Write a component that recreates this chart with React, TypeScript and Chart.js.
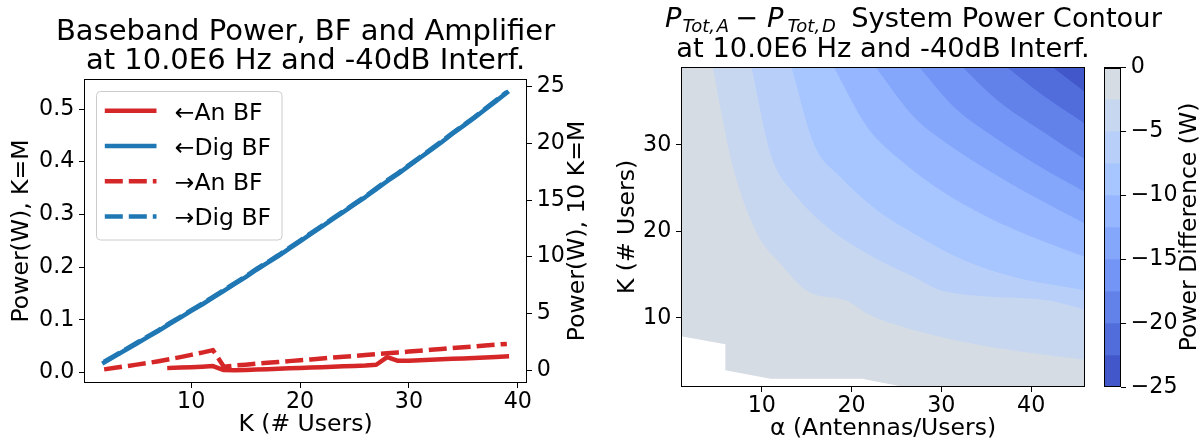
import React, { useEffect, useRef } from "react";
import { Chart, registerables } from "chart.js";

Chart.register(...registerables);

const FONT = "'DejaVu Sans', 'Liberation Sans', sans-serif";
const RED = "#d62728";
const BLUE = "#1f77b4";

// ---------- Left panel data (K = number of users) ----------
const users = [2, 3, 4, 5, 6, 7, 8, 9, 10, 11, 12, 13, 14, 15, 16, 17, 18, 19, 20, 21, 22, 23, 24, 25, 26, 27, 28, 29, 30, 31, 32, 33, 34, 35, 36, 37, 38, 39];
// left axis (W, K=M)
const anBfLeft = [null, null, null, null, null, null, 0.0084, 0.0092, 0.01, 0.011, 0.0122, 0.0045, 0.004, 0.0047, 0.0054, 0.0062, 0.007, 0.0078, 0.0086, 0.0093, 0.0101, 0.0109, 0.0117, 0.0125, 0.0133, 0.0146, 0.029, 0.0222, 0.0222, 0.0231, 0.024, 0.0249, 0.0258, 0.0267, 0.0276, 0.0285, 0.0294, 0.0304];
const digBfLeft = [0.019, 0.031, 0.043, 0.055, 0.067, 0.079, 0.092, 0.104, 0.117, 0.129, 0.142, 0.155, 0.168, 0.181, 0.195, 0.208, 0.221, 0.235, 0.249, 0.263, 0.277, 0.291, 0.305, 0.319, 0.333, 0.348, 0.363, 0.377, 0.392, 0.407, 0.422, 0.437, 0.453, 0.468, 0.483, 0.499, 0.515, 0.531];
// right axis (W, 10 K=M)
const anBfRight = [0.06, 0.2, 0.34, 0.48, 0.62, 0.78, 0.95, 1.14, 1.34, 1.54, 1.76, 0.3, 0.4, 0.48, 0.56, 0.64, 0.71, 0.79, 0.87, 0.94, 1.02, 1.1, 1.17, 1.25, 1.33, 1.4, 1.48, 1.56, 1.63, 1.71, 1.79, 1.86, 1.94, 2.02, 2.09, 2.17, 2.24, 2.31];
const digBfRight = [0.73, 1.29, 1.85, 2.41, 2.97, 3.52, 4.13, 4.69, 5.29, 5.85, 6.45, 7.06, 7.66, 8.27, 8.92, 9.52, 10.13, 10.78, 11.43, 12.08, 12.73, 13.38, 14.03, 14.68, 15.33, 16.03, 16.73, 17.38, 18.08, 18.78, 19.47, 20.17, 20.91, 21.61, 22.31, 23.05, 23.8, 24.54];

const seriesLabels = ["\u2190An BF", "\u2190Dig BF", "\u2192An BF", "\u2192Dig BF"];
const usersTicks = [10, 20, 30, 40];
const leftYTicks = [0, 0.1, 0.2, 0.3, 0.4, 0.5];
const rightYTicks = [0, 5, 10, 15, 20, 25];

// ---------- Right panel: contour boundaries [alpha, K] ----------
const boundary0 = [[1, 7.86], [5.94, 6.93], [5.94, 3.93], [10.96, 2.96], [21.18, 2.96], [25.45, 2.08], [26, 2], [46, 2]];
const boundary2_5 = [[4.53, 39], [5.57, 33.22], [6.87, 27.05], [9.47, 19.73], [12.07, 16.26], [15.23, 12.99], [19.32, 12.02], [21.73, 10.48], [25.08, 9.13], [29.91, 7.78], [34.37, 6.82], [39.94, 5.93], [46, 5.16]];
const boundary5 = [[8.84, 39], [10.96, 28.98], [13.93, 23.97], [17.28, 20.5], [21.73, 17.42], [26.94, 14.72], [30.28, 13.06], [41.8, 12.02], [46, 10.94]];
const boundary7_5 = [[13.3, 39], [15.79, 30.14], [18.76, 26.28], [22.85, 22.43], [26.94, 19.73], [32.51, 16.65], [38.09, 14.72], [46, 13.18]];
const boundary10 = [[18.02, 39], [21.73, 32.06], [25.45, 28.21], [29.91, 24.74], [35.11, 21.66], [41.06, 18.96], [46, 17.03]];
const boundary12_5 = [[22.66, 39], [26.94, 33.22], [30.65, 30.14], [35.86, 26.67], [41.06, 23.58], [46, 20.89]];
const boundary15 = [[27.5, 39], [31.4, 34.38], [35.86, 30.91], [41.06, 27.44], [46, 24.55]];
const boundary17_5 = [[32.33, 39], [36.23, 35.15], [41.06, 31.68], [46, 28.32]];
const boundary20 = [[37.27, 39], [41.06, 35.92], [46, 32.45]];
const boundary22_5 = [[42.36, 39], [46, 36.11]];
const boundaries = [boundary0, boundary2_5, boundary5, boundary7_5, boundary10, boundary12_5, boundary15, boundary17_5, boundary20, boundary22_5];
const bandLevels = [0, -2.5, -5, -7.5, -10, -12.5, -15, -17.5, -20, -22.5, -25];
const bandColors = ["#d6dce4", "#c8d7f0", "#b8d0f9", "#a7c5fe", "#96b7ff", "#84a7fc", "#7395f5", "#6282ea", "#516ddb", "#4257ca"];
const alphaTicks = [10, 20, 30, 40];
const contourUserTicks = [10, 20, 30];
const cbarTicks = [0, -5, -10, -15, -20, -25];

const TICK_SIZE = 22.2;
const LABEL_SIZE = 23.5;
const LEFT_TITLE_SIZE = 29;
const RIGHT_TITLE_SIZE = 27.3;

const tickFont = { family: FONT, size: TICK_SIZE };
const labelFont = { family: FONT, size: LABEL_SIZE };

const grid = () => ({ display: true, drawOnChartArea: false, drawTicks: true, tickLength: 5, color: "#000", lineWidth: 1 });

const framePlugin = {
  id: "frame",
  afterDatasetsDraw(chart: any) {
    const { ctx, chartArea: a } = chart;
    ctx.save();
    ctx.strokeStyle = "#000";
    ctx.lineWidth = 1;
    ctx.strokeRect(a.left + 0.5, a.top + 0.5, a.right - a.left - 1, a.bottom - a.top - 1);
    ctx.restore();
  },
};

function rotatedText(ctx: CanvasRenderingContext2D, text: string, cx: number, cy: number, size: number) {
  ctx.save();
  ctx.translate(cx, cy);
  ctx.rotate(-Math.PI / 2);
  ctx.font = `${size}px ${FONT}`;
  ctx.fillStyle = "#000";
  ctx.textAlign = "center";
  ctx.textBaseline = "middle";
  ctx.fillText(text, 0, 0);
  ctx.restore();
}

const leftTextPlugin = {
  id: "leftText",
  afterDraw(chart: any) {
    const { ctx, chartArea: a } = chart;
    const cx = (a.left + a.right) / 2;
    ctx.save();
    ctx.font = `${LEFT_TITLE_SIZE}px ${FONT}`;
    ctx.fillStyle = "#000";
    ctx.textAlign = "center";
    ctx.textBaseline = "alphabetic";
    ctx.fillText("Baseband Power, BF and Amplifier", cx, 39.5);
    ctx.fillText("at 10.0E6 Hz and -40dB Interf.", cx, 68.5);
    ctx.restore();
    rotatedText(ctx, "Power(W), 10 K=M", 578, (a.top + a.bottom) / 2, LABEL_SIZE);
  },
};

const legendPlugin = {
  id: "boxLegend",
  afterDatasetsDraw(chart: any) {
    const { ctx, chartArea: a } = chart;
    const x0 = a.left + 12.5;
    const y0 = a.top + 12.5;
    ctx.save();
    ctx.beginPath();
    ctx.roundRect(x0, y0, 185.5, 148.5, 4);
    ctx.fillStyle = "rgba(255,255,255,0.8)";
    ctx.fill();
    ctx.strokeStyle = "#cccccc";
    ctx.lineWidth = 1;
    ctx.stroke();
    chart.data.datasets.forEach((ds: any, i: number) => {
      const rowY = y0 + 19.3 + i * 35.2;
      ctx.beginPath();
      ctx.setLineDash(ds.borderDash || []);
      ctx.strokeStyle = ds.borderColor;
      ctx.lineWidth = ds.borderWidth;
      ctx.lineCap = "butt";
      ctx.moveTo(x0 + 8.3, rowY);
      ctx.lineTo(x0 + 60, rowY);
      ctx.stroke();
      ctx.setLineDash([]);
      ctx.fillStyle = "#000";
      ctx.font = `${LABEL_SIZE}px ${FONT}`;
      ctx.textAlign = "left";
      ctx.textBaseline = "alphabetic";
      ctx.fillText(ds.label, x0 + 78.3, rowY + 9);
    });
    ctx.restore();
  },
};

const contourTextPlugin = {
  id: "contourText",
  afterDraw(chart: any) {
    const { ctx, chartArea: a } = chart;
    const cx = (a.left + a.right) / 2;
    const s = RIGHT_TITLE_SIZE;
    const sub = s * 0.66;
    const subDy = s * 0.2;
    const base = 27;
    const x0 = a.left - 16;
    // mathtext-like pieces, offsets in units of the font size
    const pieces: { t: string; f: string; dy: number; at: number }[] = [
      { t: "P", f: `italic ${s}px ${FONT}`, dy: 0, at: 0 },
      { t: "Tot,\u200aA", f: `italic ${sub}px ${FONT}`, dy: subDy, at: 0.64 },
      { t: "\u2212", f: `${s}px ${FONT}`, dy: 0, at: 2.57 },
      { t: "P", f: `italic ${s}px ${FONT}`, dy: 0, at: 3.74 },
      { t: "Tot,\u200aD", f: `italic ${sub}px ${FONT}`, dy: subDy, at: 4.49 },
      { t: "System Power Contour", f: `${s}px ${FONT}`, dy: 0, at: 6.82 },
    ];
    ctx.save();
    ctx.fillStyle = "#000";
    ctx.textBaseline = "alphabetic";
    ctx.textAlign = "left";
    pieces.forEach((p) => {
      ctx.font = p.f;
      ctx.fillText(p.t, x0 + p.at * s, base + p.dy);
    });
    ctx.font = `${s}px ${FONT}`;
    ctx.textAlign = "center";
    ctx.fillText("at 10.0E6 Hz and -40dB Interf.", cx, 56.5);
    ctx.restore();
  },
};

const cbarPlugin = {
  id: "cbarDeco",
  afterDatasetsDraw(chart: any) {
    const { ctx, chartArea: a } = chart;
    ctx.save();
    ctx.fillStyle = "#000";
    ctx.fillRect(a.left, a.top, a.right - a.left, 2);
    ctx.strokeStyle = "#000";
    ctx.lineWidth = 1;
    ctx.strokeRect(a.left + 0.5, a.top + 0.5, a.right - a.left - 1, a.bottom - a.top - 1);
    ctx.restore();
  },
  afterDraw(chart: any) {
    const { ctx, chartArea: a } = chart;
    rotatedText(ctx, "Power Difference (W)", 95, (a.top + a.bottom) / 2, LABEL_SIZE);
  },
};

const setTicks = (vals: number[]) => (axis: any) => {
  axis.ticks = vals.map((value) => ({ value }));
};

function leftConfig(): any {
  const pts = (arr: (number | null)[]) => users.map((k, i) => ({ x: k, y: arr[i] }));
  const common = { pointRadius: 0, borderWidth: 4.5, fill: false, borderJoinStyle: "round", spanGaps: false };
  return {
    type: "line",
    data: {
      datasets: [
        { ...common, label: seriesLabels[0], data: pts(anBfLeft), borderColor: RED, yAxisID: "y", order: 4, borderCapStyle: "square" },
        { ...common, label: seriesLabels[1], data: pts(digBfLeft), borderColor: BLUE, yAxisID: "y", order: 3, borderCapStyle: "square" },
        { ...common, label: seriesLabels[2], data: pts(anBfRight), borderColor: RED, yAxisID: "y1", order: 2, borderDash: [18, 6] },
        { ...common, label: seriesLabels[3], data: pts(digBfRight), borderColor: BLUE, yAxisID: "y1", order: 1, borderDash: [18, 6] },
      ],
    },
    options: {
      responsive: false,
      animation: false,
      events: [],
      layout: { padding: { top: 79, left: 0, right: 0, bottom: 0 } },
      plugins: { legend: { display: false }, tooltip: { enabled: false }, title: { display: false } },
      scales: {
        x: {
          type: "linear",
          min: 0.15,
          max: 40.85,
          afterBuildTicks: setTicks(usersTicks),
          afterFit: (s: any) => { s.height = 60; },
          grid: grid(),
          border: { display: false },
          ticks: { font: tickFont, color: "#000", padding: 1, maxRotation: 0 },
          title: { display: true, text: "K (# Users)", font: labelFont, color: "#000", padding: { top: 0, bottom: 3.9 } },
        },
        y: {
          type: "linear",
          position: "left",
          min: -0.02,
          max: 0.557,
          afterBuildTicks: setTicks(leftYTicks),
          afterFit: (s: any) => { s.width = 84; },
          grid: grid(),
          border: { display: false },
          ticks: { font: tickFont, color: "#000", padding: 4.7, callback: (v: any) => Number(v).toFixed(1) },
          title: { display: true, text: "Power(W), K=M", font: labelFont, color: "#000", padding: { top: 8, bottom: 0 } },
        },
        y1: {
          type: "linear",
          position: "right",
          min: -1.14,
          max: 25.68,
          afterBuildTicks: setTicks(rightYTicks),
          afterFit: (s: any) => { s.width = 73; },
          grid: grid(),
          border: { display: false },
          ticks: { font: tickFont, color: "#000", padding: 4.7, callback: (v: any) => String(v) },
        },
      },
    },
    plugins: [framePlugin, legendPlugin, leftTextPlugin],
  };
}

function contourConfig(): any {
  const datasets = boundaries.map((b, i) => ({
    label: `${bandLevels[i]}`,
    data: b.map(([a, k]) => ({ x: a, y: k })),
    borderColor: "rgba(0,0,0,0)",
    borderWidth: 0,
    pointRadius: 0,
    backgroundColor: bandColors[i],
    fill: "end",
    order: boundaries.length - i,
    cubicInterpolationMode: i === 0 ? "default" : "monotone",
    tension: 0,
  }));
  return {
    type: "line",
    data: { datasets },
    options: {
      responsive: false,
      animation: false,
      events: [],
      layout: { padding: { top: 67, left: 0, right: 118, bottom: 0 } },
      plugins: { legend: { display: false }, tooltip: { enabled: false }, title: { display: false } },
      scales: {
        x: {
          type: "linear",
          min: 1,
          max: 46,
          afterBuildTicks: setTicks(alphaTicks),
          afterFit: (s: any) => { s.height = 56; },
          grid: grid(),
          border: { display: false },
          ticks: { font: tickFont, color: "#000", padding: 1, maxRotation: 0 },
          title: { display: true, text: "\u03b1 (Antennas/Users)", font: labelFont, color: "#000", padding: { top: 0, bottom: 0 } },
        },
        y: {
          type: "linear",
          position: "left",
          min: 2,
          max: 39,
          afterBuildTicks: setTicks(contourUserTicks),
          afterFit: (s: any) => { s.width = 81; },
          grid: grid(),
          border: { display: false },
          ticks: { font: tickFont, color: "#000", padding: 4.7 },
          title: { display: true, text: "K (# Users)", font: labelFont, color: "#000", padding: { top: 14, bottom: 0 } },
        },
      },
    },
    plugins: [framePlugin, contourTextPlugin],
  };
}

function colorbarConfig(): any {
  const datasets = bandColors.map((c, i) => ({
    label: `${bandLevels[i + 1]} to ${bandLevels[i]}`,
    data: [[bandLevels[i + 1], bandLevels[i]]],
    backgroundColor: c,
    borderWidth: 0,
    barPercentage: 1,
    categoryPercentage: 1,
    grouped: false,
  }));
  return {
    type: "bar",
    data: { labels: [""], datasets },
    options: {
      responsive: false,
      animation: false,
      events: [],
      layout: { padding: { top: 67, left: 9, right: 0, bottom: 56 } },
      plugins: { legend: { display: false }, tooltip: { enabled: false }, title: { display: false } },
      scales: {
        x: { type: "category", display: false },
        y: {
          type: "linear",
          position: "right",
          min: -25,
          max: 0,
          afterBuildTicks: setTicks(cbarTicks),
          afterFit: (s: any) => { s.width = 82; },
          grid: grid(),
          border: { display: false },
          ticks: { font: tickFont, color: "#000", padding: 4.7, callback: (v: any) => (v === 0 ? "0" : "\u2212" + Math.abs(v)) },
        },
      },
    },
    plugins: [cbarPlugin],
  };
}

export default function App() {
  const leftRef = useRef<HTMLCanvasElement>(null);
  const contourRef = useRef<HTMLCanvasElement>(null);
  const cbarRef = useRef<HTMLCanvasElement>(null);

  useEffect(() => {
    Chart.defaults.font.family = FONT;
    Chart.defaults.color = "#000";
    const c1 = new Chart(leftRef.current as HTMLCanvasElement, leftConfig());
    const c2 = new Chart(contourRef.current as HTMLCanvasElement, contourConfig());
    const c3 = new Chart(cbarRef.current as HTMLCanvasElement, colorbarConfig());
    return () => {
      c1.destroy();
      c2.destroy();
      c3.destroy();
    };
  }, []);

  const abs = (left: number, width: number): React.CSSProperties => ({ position: "absolute", left, top: 0, width, height: 443 });

  return (
    <div style={{ position: "absolute", left: 0, top: 0, width: 1203, height: 443, background: "#fff", overflow: "hidden" }}>
      <canvas ref={leftRef} width={600} height={443} style={abs(0, 600)} />
      <canvas ref={contourRef} width={603} height={443} style={abs(600, 603)} />
      <canvas ref={cbarRef} width={108} height={443} style={abs(1095, 108)} />
    </div>
  );
}
